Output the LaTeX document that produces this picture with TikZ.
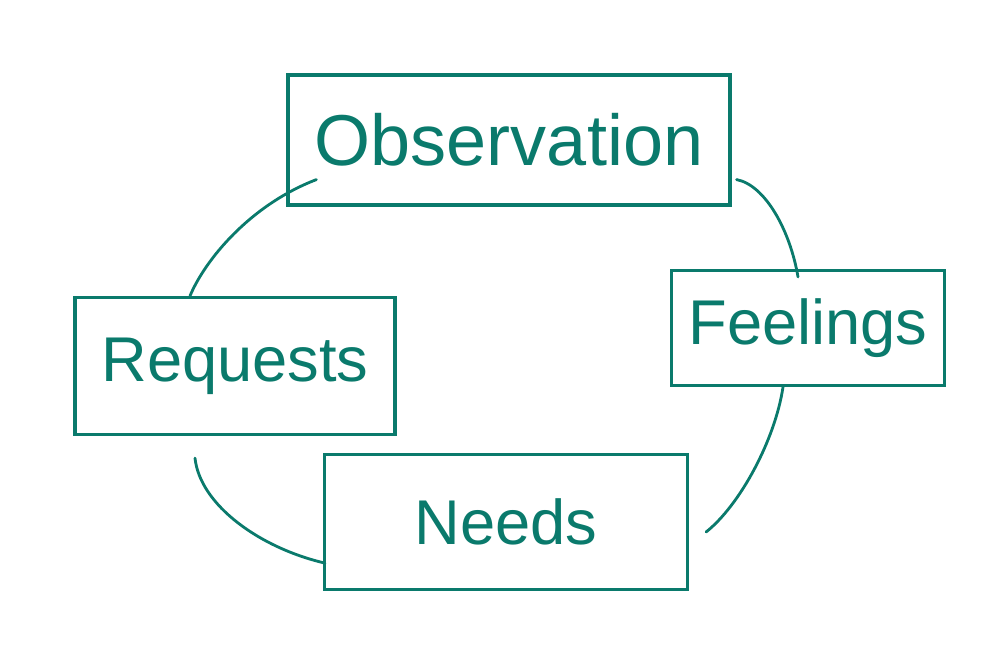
\documentclass[tikz,border=0pt]{standalone}
\usepackage{fontspec}
\setmainfont{Liberation Sans}
\usetikzlibrary{calc}
\definecolor{sketch}{HTML}{0A7A6C}
\begin{document}
\begin{tikzpicture}[x=0.02cm, y=-0.02cm,
    box/.style={draw=sketch, line width=1.8pt, line cap=round, rectangle,
        inner sep=0pt, text=sketch, font=\fontsize{36}{40}\selectfont},
    link/.style={draw=sketch, line width=1.6pt, line cap=round}]
        \useasboundingbox (0,0) rectangle (1000,656);
        \node[box, minimum width=442*0.02cm, minimum height=130*0.02cm, font=\fontsize{41}{46}\selectfont] (obs) at (509,140) {Observation};
        \node[box, minimum width=273*0.02cm, minimum height=115*0.02cm] (feel) at (808,328) {Feelings};
        \node[box, minimum width=363*0.02cm, minimum height=135*0.02cm] (need) at (506,522) {Needs};
        \node[box, minimum width=320*0.02cm, minimum height=137*0.02cm] (req) at (235,366) {Requests};
        % connector ends
        \coordinate (o1) at ($(obs.south west)+(30,-27)$);
        \coordinate (r1) at ($(req.north)+(-45,0)$);
        \coordinate (o2) at ($(obs.south east)+(5,-27)$);
        \coordinate (f1) at ($(feel.north)+(-10,8)$);
        \coordinate (f2) at ($(feel.south)+(-25,0)$);
        \coordinate (n1) at ($(need.east)+(17,10)$);
        \coordinate (r2) at ($(req.south)+(-40,22)$);
        \coordinate (n2) at ($(need.south west)+(2,-28)$);
        \foreach \from/\ca/\cb/\to in {o1/{250,205}/{205,260}/r1, o2/{765,185}/{790,230}/f1,
                f2/{775,440}/{740,505}/n1, r2/{200,505}/{260,548}/n2}
            \draw[link] (\from) .. controls (\ca) and (\cb) .. (\to);
    \end{tikzpicture}
\end{document}
